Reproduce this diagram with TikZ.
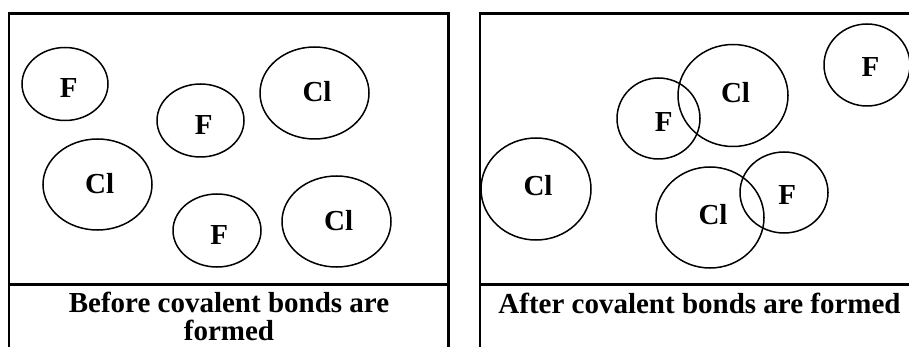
\documentclass[tikz,border=0pt]{standalone}
\usepackage{fontspec}
\setmainfont{Liberation Serif}
\usetikzlibrary{shapes.geometric}

\begin{document}
\begin{tikzpicture}[x=1pt, y=-1pt,
    atom/.style={ellipse, draw, line width=1.5pt, inner sep=0pt},
    sym/.style={font=\bfseries\fontsize{29}{31}\selectfont, inner sep=0pt},
    frame/.style={line width=2.2pt}]
    \useasboundingbox (0,0) rectangle (909,347);
    \clip (0,0) rectangle (909,347);
    % panel frames
    \coordinate (bTL) at (9,13.5);
    \coordinate (bTR) at (448.5,13.5);
    \coordinate (aTL) at (480,13.5);
    \coordinate (aTR) at (915,13.5);
    \draw[frame] (9,350) -- (bTL) -- (bTR) -- (448.5,350);
    \draw[frame] (9,284.5) -- (448.5,284.5);
    \draw[frame] (480,350) -- (aTL) -- (aTR);
    \draw[frame] (480,284.5) -- (915,284.5);
    % atoms before
    \foreach \n/\cx/\cy/\w/\h/\t/\tx/\ty in {
        bF1/65/84/86/73/F/68.7/88.3,
        bF2/200.5/120.5/87/73/F/203.7/125,
        bCl1/314.5/93/109/92/Cl/317/91.7,
        bCl2/97.5/184.5/109/91/Cl/99.7/183.7,
        bF3/217/230.5/88/73/F/219.3/234.7,
        bCl3/336.5/221.5/109/91/Cl/338.7/220.3} {
        \node[atom, minimum width=\w pt, minimum height=\h pt] (\n) at (\cx,\cy) {};
        \node[sym] (\n-t) at (\tx,\ty) {\t};
    }
    % atoms after
    \foreach \n/\cx/\cy/\w/\h/\t/\tx/\ty in {
        aF1/867/65/86/82/F/870.5/67,
        aCl1/733/95.5/110/102/Cl/735.5/92.3,
        aF2/658.5/118.5/83/81/F/663.7/121.7,
        aCl2/536/189/110/102/Cl/538/185.3,
        aCl3/710/217.5/108/101/Cl/713/214.2,
        aF3/784/192.5/88/81/F/787.2/195.3} {
        \node[atom, minimum width=\w pt, minimum height=\h pt] (\n) at (\cx,\cy) {};
        \node[sym] (\n-t) at (\tx,\ty) {\t};
    }
    % captions
    \node[sym, anchor=base] (bCap) at (229,312) {Before covalent bonds are};
    \node[sym, anchor=base] (bCap2) at (229,340) {formed};
    \node[sym, anchor=base] (aCap) at (699.5,313) {After covalent bonds are formed};
\end{tikzpicture}
\end{document}
